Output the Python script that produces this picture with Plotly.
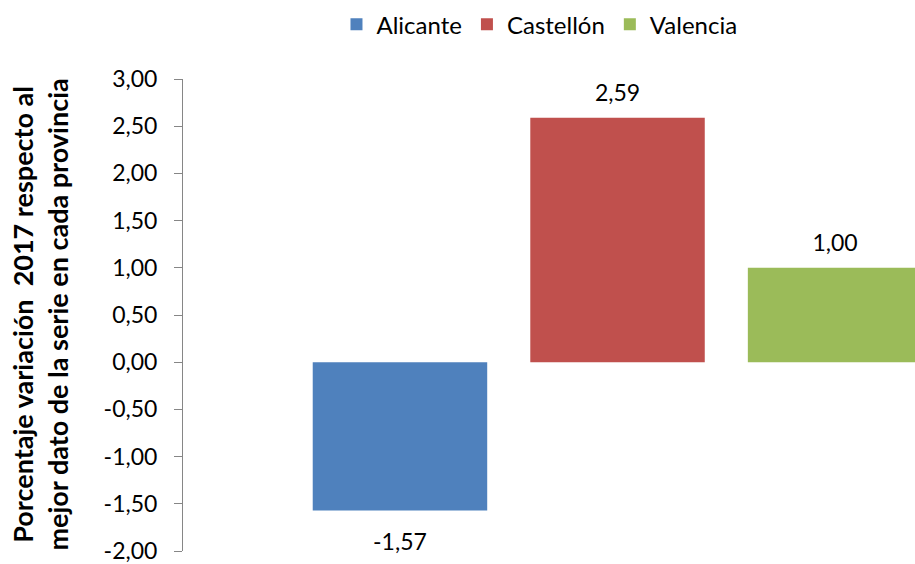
import plotly.graph_objects as go

# ---- data ----
category = ["2017"]
provinces = ["Alicante", "Castellón", "Valencia"]
values = [-1.57, 2.59, 1.00]
colors = ["#4F81BD", "#C0504D", "#9BBB59"]
tick_vals = [-2.0, -1.5, -1.0, -0.5, 0.0, 0.5, 1.0, 1.5, 2.0, 2.5, 3.0]
tick_labels = ["-2,00", "-1,50", "-1,00", "-0,50", "0,00", "0,50",
               "1,00", "1,50", "2,00", "2,50", "3,00"]
y_title = "Porcentaje variación \u00a02017 respecto al<br>mejor dato de la serie en cada provincia"

FONT = "Lato, 'Open Sans', Arial, sans-serif"
BARGAP = 0.249

fig = go.Figure()
for name, v, c in zip(provinces, values, colors):
    fig.add_trace(go.Bar(
        x=category, y=[v], name=name, marker=dict(color=c, line=dict(width=0)),
        hoverinfo="skip",
    ))
for name, v in zip(provinces, values):
    label = f"{v:.2f}".replace(".", ",")
    fig.add_trace(go.Scatter(
        x=category, y=[v], mode="markers+text", text=[label],
        textposition="bottom center" if v < 0 else "top center",
        marker=dict(size=34 if v < 0 else 16, color="rgba(0,0,0,0)"),
        textfont=dict(family=FONT, size=23, color="#000000"),
        orientation="v", showlegend=False, hoverinfo="skip", cliponaxis=False,
    ))

fig.update_layout(
    width=915, height=564,
    margin=dict(l=183, r=0, t=79, b=11),
    paper_bgcolor="white", plot_bgcolor="white",
    barmode="group", bargap=BARGAP, bargroupgap=0.198,
    scattermode="group", scattergap=BARGAP,
    font=dict(family=FONT, color="#000000"),
    showlegend=True,
    legend=dict(orientation="h", x=0.487, xanchor="center", y=1.115, yanchor="middle",
                font=dict(family=FONT, size=24, color="#000000"),
                traceorder="normal", itemclick=False),
    xaxis=dict(type="category", range=[-0.5, 0.3423], showticklabels=False,
               showline=False, showgrid=False, zeroline=False, ticks=""),
    yaxis=dict(range=[-2, 3], tickmode="array", tickvals=tick_vals, ticktext=tick_labels,
               showline=True, linecolor="#868686", linewidth=1,
               ticks="outside", ticklen=8, tickcolor="#868686", tickwidth=1,
               showgrid=False, zeroline=False, ticklabelstandoff=12,
               ticklabeloverflow="allow",
               tickfont=dict(family=FONT, size=23, color="#000000")),
    annotations=[dict(
        text=y_title, textangle=-90, xref="paper", yref="paper",
        x=-0.196, y=0.5, xanchor="center", yanchor="middle", showarrow=False,
        font=dict(family=FONT, size=27, color="#000000", weight="bold"),
        align="center",
    )],
)

fig.write_html("out.html", config={"displayModeBar": False},
               post_script="document.body.style.margin='0px';")
